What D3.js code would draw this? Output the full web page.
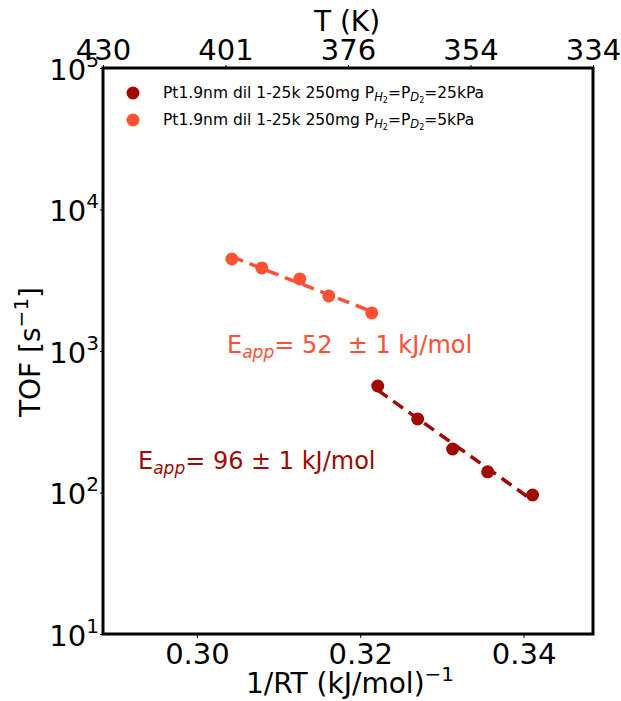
<!DOCTYPE html>
<html><head><meta charset="utf-8">
<script src="https://cdn.jsdelivr.net/npm/d3@7"></script>
<style>body{margin:0;background:#fff;} svg{display:block;} text{font-family:"DejaVu Sans",sans-serif;white-space:pre;}</style>
</head><body><svg id="c" width="621" height="701"></svg>
<script>
// Data
const seriesNames = ["Pt1.9nm dil 1-25k 250mg P_H2=P_D2=25kPa", "Pt1.9nm dil 1-25k 250mg P_H2=P_D2=5kPa"];
const invRT25 = [0.32214, 0.32703, 0.33131, 0.3356, 0.3411];
const tof25   = [566, 331, 203, 140, 96];
const invRT5  = [0.30428, 0.30795, 0.3126, 0.31615, 0.32141];
const tof5    = [4467, 3862, 3230, 2449, 1858];
const xTicks = [0.30, 0.32, 0.34];
const yTicks = [10, 100, 1000, 10000, 100000];
const topTickLabels = ["430", "401", "376", "354", "334"];
const eappLabels = ["96 ± 1 kJ/mol", "52  ± 1 kJ/mol"];

const colDark = "#a00a00", colLight = "#fe5034";
const svg = d3.select("#c");
const L = 103, R = 593, T = 68, B = 634;
const x = d3.scaleLinear().domain([0.2885, 0.3485]).range([L, R]);
const y = d3.scaleLog().domain([10, 100000]).range([B, T]);

// ticks bottom
const bx = svg.append("g").attr("transform", `translate(0,${B})`)
  .call(d3.axisBottom(x).tickValues(xTicks).tickFormat(d3.format(".2f")).tickSize(4).tickPadding(5));
bx.select(".domain").remove();
bx.selectAll("text").attr("font-size", 29).attr("fill", "#000");
// left ticks
const ly = svg.append("g").attr("transform", `translate(${L},0)`)
  .call(d3.axisLeft(y).tickValues(yTicks).tickFormat(() => "").tickSize(3));
ly.select(".domain").remove();
ly.selectAll(".tick").each(function(d){
  const g = d3.select(this);
  const e = Math.round(Math.log10(d));
  const t = g.append("text").attr("x", -4).attr("y", 11).attr("text-anchor", "end").attr("fill", "#000").attr("font-size", 29);
  t.append("tspan").text("10");
  t.append("tspan").attr("dy", -13).attr("font-size", 20).text(e);
});
// top ticks (evenly spaced)
const xt = d3.scaleLinear().domain([0, 4]).range([L, R]);
const tg = svg.append("g").attr("transform", `translate(0,${T})`)
  .call(d3.axisTop(xt).tickValues([0,1,2,3,4]).tickFormat(i => topTickLabels[i]).tickSize(3).tickPadding(5));
tg.select(".domain").remove();
tg.selectAll("text").attr("font-size", 29).attr("fill", "#000");

// fits (least squares on log10)
function fit(xs, ys) {
  const ly = ys.map(Math.log10);
  const mx = d3.mean(xs), my = d3.mean(ly);
  let sxy = 0, sxx = 0;
  xs.forEach((v, i) => { sxy += (v - mx) * (ly[i] - my); sxx += (v - mx) * (v - mx); });
  const b = sxy / sxx, a = my - b * mx;
  const x0 = d3.min(xs), x1 = d3.max(xs);
  return [[x0, Math.pow(10, a + b * x0)], [x1, Math.pow(10, a + b * x1)]];
}
const line = d3.line().x(d => x(d[0])).y(d => y(d[1]));
const groups = [[invRT25, tof25, colDark], [invRT5, tof5, colLight]];
groups.forEach(([xs, ys, c]) => {
  svg.append("g").selectAll("circle").data(xs).join("circle")
    .attr("cx", d => x(d)).attr("cy", (d, i) => y(ys[i])).attr("r", 6.5).attr("fill", c);
  svg.append("path").attr("d", line(fit(xs, ys))).attr("stroke", c).attr("stroke-width", 3.5)
    .attr("fill", "none").attr("stroke-dasharray", "12,7");
});

// frame
svg.append("rect").attr("x", L).attr("y", T).attr("width", R - L).attr("height", B - T)
  .attr("fill", "none").attr("stroke", "#000").attr("stroke-width", 3);

// legend
const leg = [[colDark, 93], [colLight, 120]];
leg.forEach(([c, yy], i) => {
  svg.append("circle").attr("cx", 133).attr("cy", yy).attr("r", 6.5).attr("fill", c);
  const t = svg.append("text").attr("x", 163).attr("y", yy + 5).attr("font-size", 15.5).attr("fill", "#000");
  t.append("tspan").text("Pt1.9nm dil 1-25k 250mg P");
  t.append("tspan").attr("font-size", 11.5).attr("font-style", "italic").attr("dy", 3).text("H");
  t.append("tspan").attr("font-size", 8).attr("dy", 2).text("2");
  t.append("tspan").attr("dy", -5).text("=P");
  t.append("tspan").attr("font-size", 11.5).attr("font-style", "italic").attr("dy", 3).text("D");
  t.append("tspan").attr("font-size", 8).attr("dy", 2).text("2");
  t.append("tspan").attr("dy", -5).text(i === 0 ? "=25kPa" : "=5kPa");
});

// Eapp annotations
function eapp(xp, yp, c, s) {
  const t = svg.append("text").attr("x", xp).attr("y", yp).attr("font-size", 24).attr("fill", c);
  t.append("tspan").text("E");
  t.append("tspan").attr("font-size", 17).attr("font-style", "italic").attr("dy", 5).text("app");
  t.append("tspan").attr("dy", -5).text("= " + s);
}
eapp(227, 353, colLight, eappLabels[1]);
eapp(138, 469, colDark, eappLabels[0]);

// axis labels
svg.append("text").attr("x", 350).attr("y", 693).attr("text-anchor", "middle").attr("font-size", 28)
  .html('1/RT (kJ/mol)<tspan dy="-12" font-size="20">−1</tspan>');
svg.append("text").attr("x", 347).attr("y", 31).attr("text-anchor", "middle").attr("font-size", 28).text("T (K)");
svg.append("text").attr("transform", "translate(40,352) rotate(-90)").attr("text-anchor", "middle").attr("font-size", 28)
  .html('TOF [s<tspan dy="-12" font-size="20">−1</tspan><tspan dy="12">]</tspan>');
</script></body></html>
